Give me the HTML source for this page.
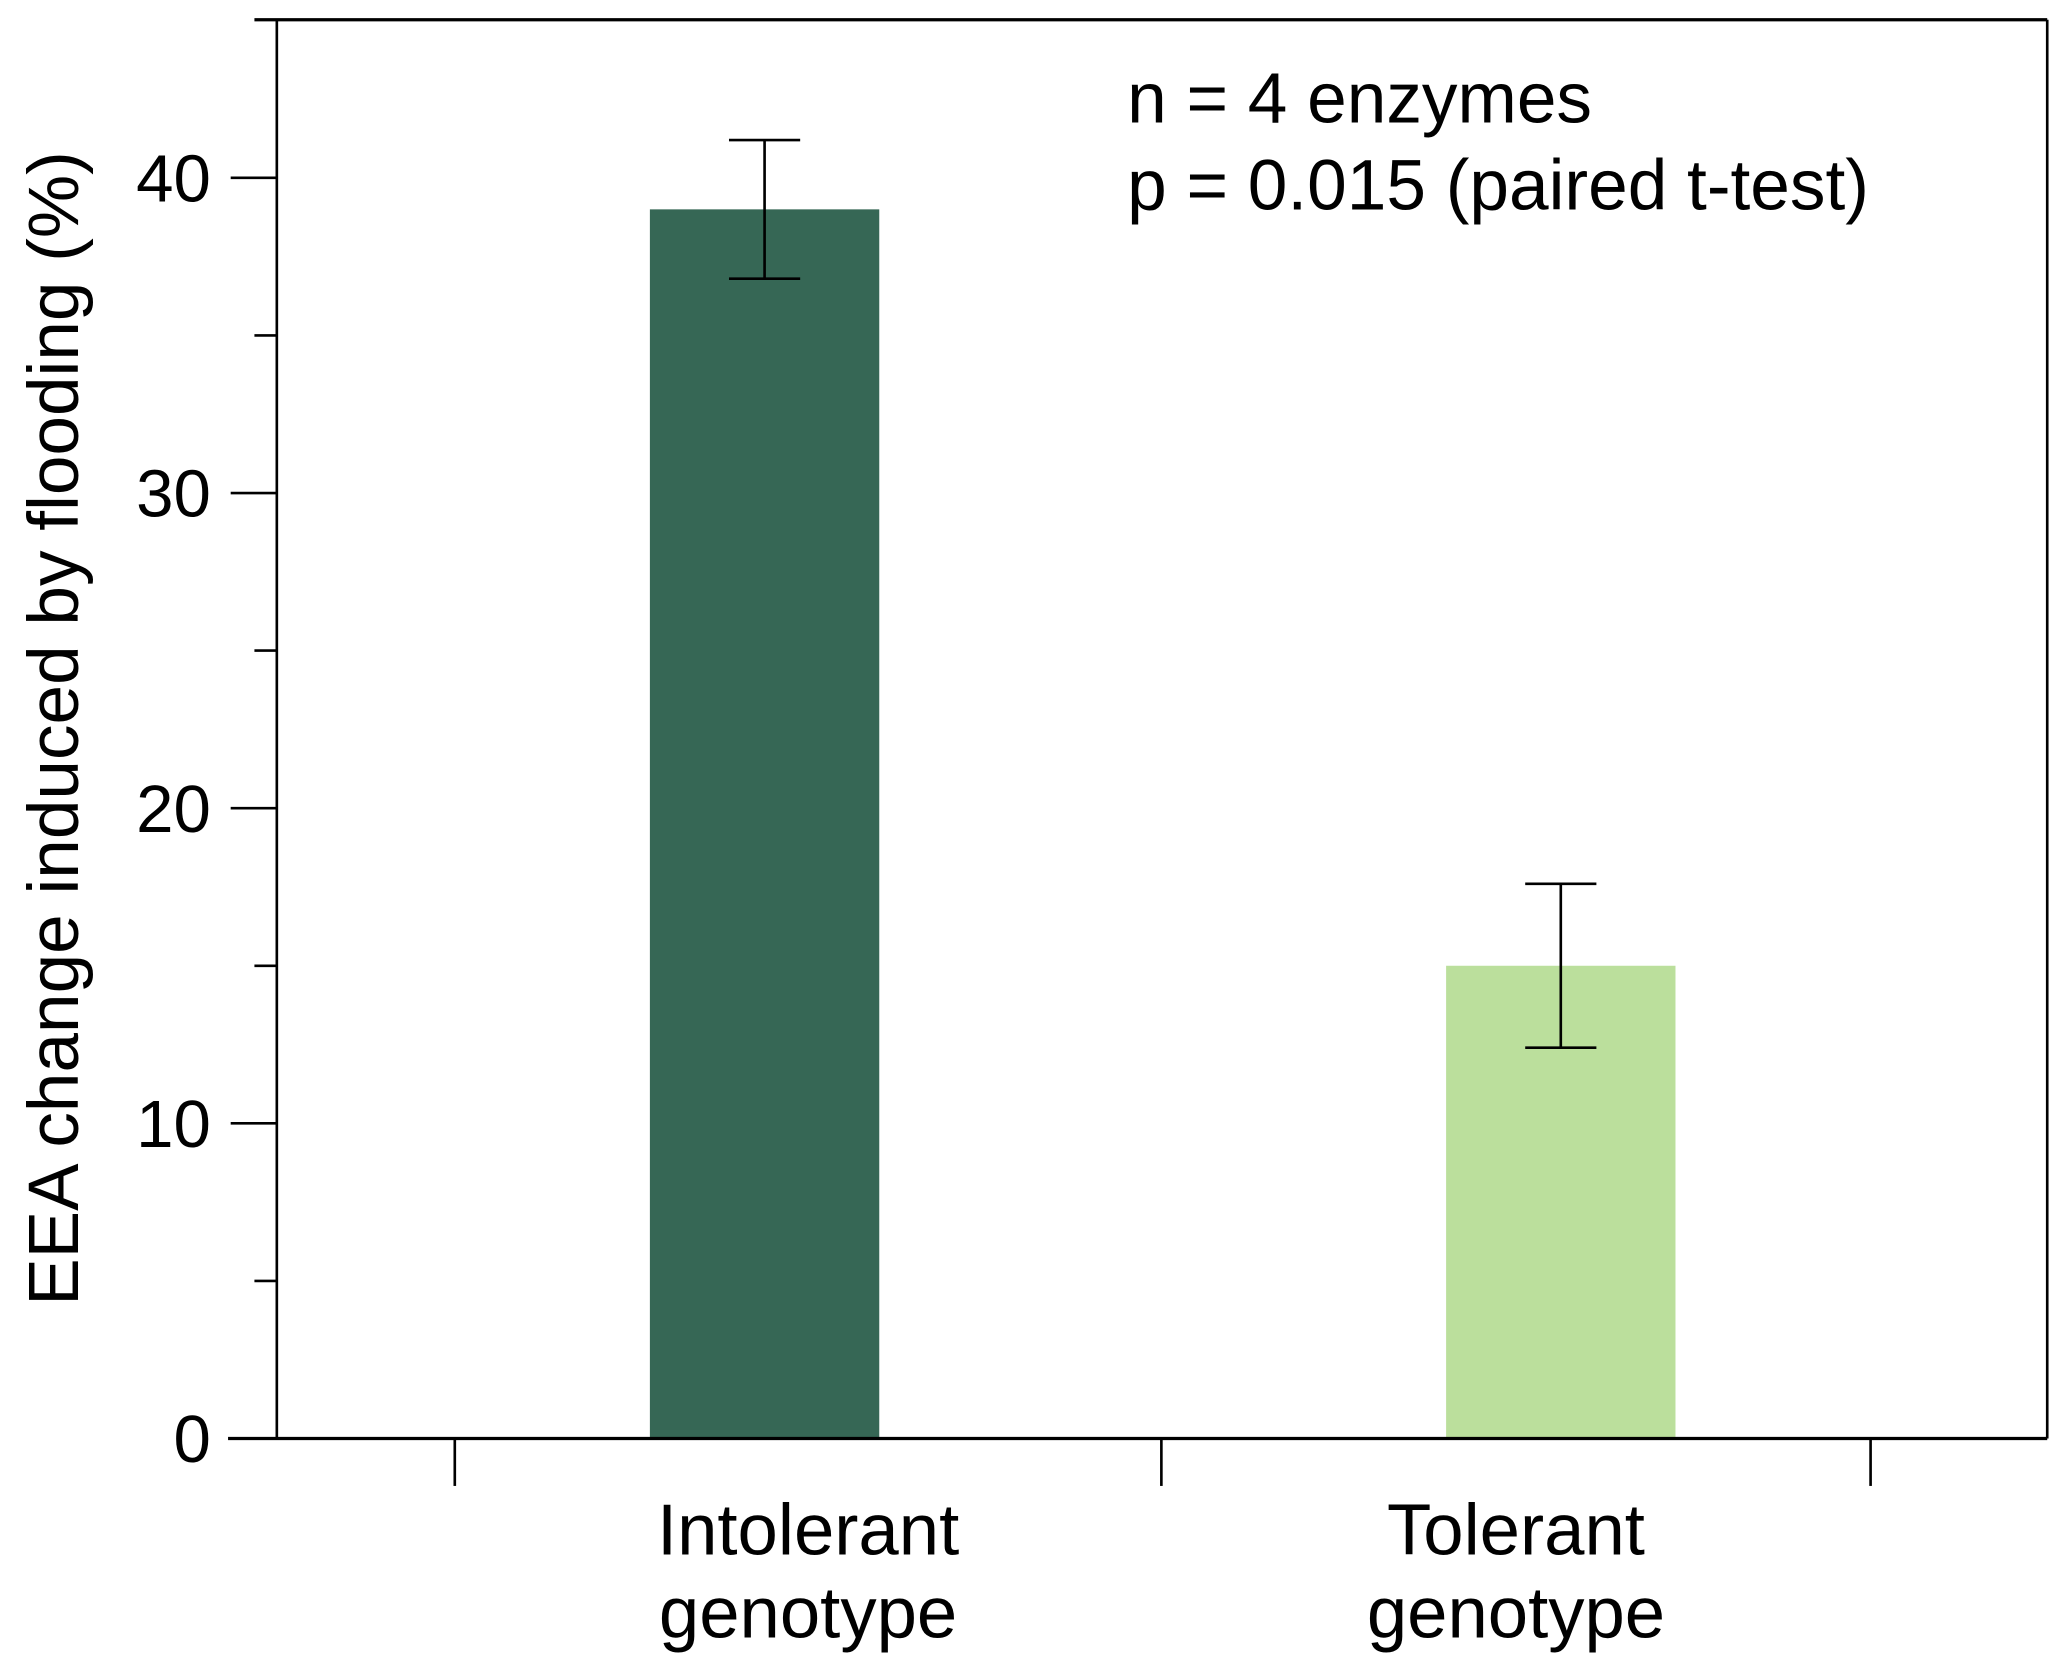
<!DOCTYPE html>
<html><head><meta charset="utf-8"><style>
html,body{margin:0;padding:0;background:#fff;}
svg{display:block;}
text{font-family:"Liberation Sans",sans-serif;fill:#000;}
</style></head><body>
<svg id="chart" width="2067" height="1673" viewBox="0 0 1568 1270" preserveAspectRatio="none" xmlns="http://www.w3.org/2000/svg">
<g id="plot"></g>
</svg>
<script>
const categories = ["Intolerant genotype", "Tolerant genotype"];
const values = [39, 15];
const errUpper = [41.2, 17.6];
const errLower = [36.8, 12.4];
const colors = ["#366755", "#bbdf9c"];
const yTicks = [0, 10, 20, 30, 40];
const yMinor = [5, 15, 25, 35];

const NS = "http://www.w3.org/2000/svg";
const g = document.getElementById("plot");
const L = 210, R = 1553, T = 15, B = 1092;
function y(v){ return B - v * 23.925; }
function xc(i){ return 580 + i * 604; }
const barW = 174;
function mk(tag, attrs, parent){
  const e = document.createElementNS(NS, tag);
  for (const k in attrs) e.setAttribute(k, attrs[k]);
  (parent || g).appendChild(e);
  return e;
}
categories.forEach((c, i) => {
  const b = mk("rect", {x: xc(i) - barW/2, y: y(values[i]), width: barW, height: B - y(values[i]), fill: colors[i]});
  
  
  const eg = mk("g", {stroke: "#000", "stroke-width": 2});
  
  
  mk("line", {x1: xc(i), x2: xc(i), y1: y(errUpper[i]), y2: y(errLower[i])}, eg);
  mk("line", {x1: xc(i) - 27, x2: xc(i) + 27, y1: y(errUpper[i]), y2: y(errUpper[i])}, eg);
  mk("line", {x1: xc(i) - 27, x2: xc(i) + 27, y1: y(errLower[i]), y2: y(errLower[i])}, eg);
});
const fr = mk("g", {stroke: "#000", "stroke-width": 2, fill: "none"});


mk("line", {x1: L, x2: L, y1: T, y2: B}, fr);
mk("line", {x1: R, x2: R, y1: T, y2: B}, fr);
mk("line", {x1: 193, x2: R, y1: T, y2: T, "stroke-width": 2.5}, fr);
mk("line", {x1: 173, x2: R, y1: B, y2: B, "stroke-width": 2.5}, fr);
yTicks.forEach(t => {
  const tk = mk("line", {x1: 175, x2: L, y1: y(t), y2: y(t), stroke: "#000", "stroke-width": 2});
  
  
  const tl = mk("text", {x: 160, y: y(t) + 18, "text-anchor": "end", "font-size": 51});
  tl.textContent = t;
  
  
});
yMinor.forEach(t => {
  const tk = mk("line", {x1: 193, x2: L, y1: y(t), y2: y(t), stroke: "#000", "stroke-width": 2});
  
  
});
[345, 881, 1419].forEach(xx => {
  const tk = mk("line", {x1: xx, x2: xx, y1: B, y2: 1128, stroke: "#000", "stroke-width": 2});
  
  
});
const labX = [613, 1150];
categories.forEach((c, i) => {
  const parts = c.split(" ");
  const t = mk("text", {x: labX[i], "text-anchor": "middle", "font-size": 55});
  
  
  const s1 = mk("tspan", {x: labX[i], y: 1180}, t); s1.textContent = parts[0];
  const s2 = mk("tspan", {x: labX[i], y: 1243}, t); s2.textContent = parts[1];
});
const yt = mk("text", {x: 0, y: 0, "text-anchor": "middle", "font-size": 54, transform: "translate(59,553) rotate(-90)"});
yt.textContent = "EEA change induced by flooding (%)";


const a1 = mk("text", {x: 855, y: 93, "font-size": 54});
a1.textContent = "n = 4 enzymes";


const a2 = mk("text", {x: 855, y: 159, "font-size": 54});
a2.textContent = "p = 0.015 (paired t-test)";


</script>
</body></html>
